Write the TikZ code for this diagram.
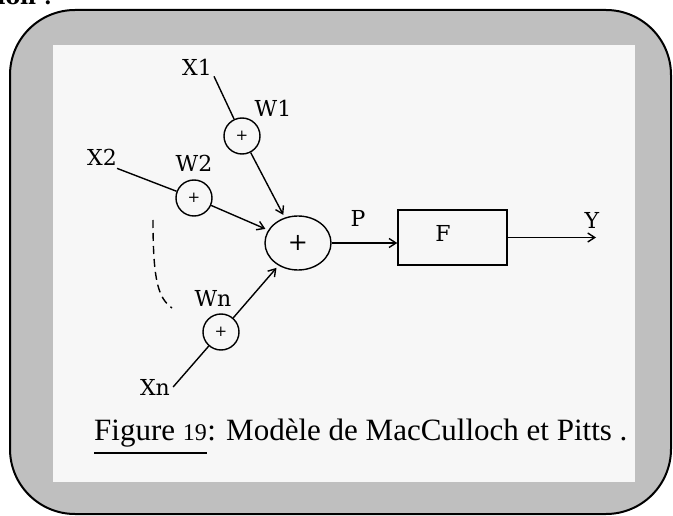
\documentclass[tikz,border=0pt]{standalone}
\usepackage{fontspec}
\setmainfont{DejaVu Serif}
\newfontfamily\capfont{Liberation Serif}
\usetikzlibrary{arrows.meta,shapes.geometric}
\begin{document}
\begin{tikzpicture}[x=1pt,y=-1pt,
  lbl/.style={font=\fontsize{22}{22}\selectfont, inner sep=0pt},
  wcirc/.style={circle, draw, line width=1.4pt, minimum size=36pt, inner sep=0pt, font=\fontsize{15}{15}\selectfont},
  conn/.style={line width=1.4pt},
  arr/.style={line width=1.4pt, -{Straight Barb[length=7pt,width=9pt]}},
  captxt/.style={font=\capfont\fontsize{31}{31}\selectfont, inner sep=0pt, anchor=base west}
]
\clip (0,0) rectangle (673,516);
\fill[white] (0,0) rectangle (673,516);
\node[anchor=base west, font=\bfseries\fontsize{22}{22}\selectfont, inner sep=0pt] (ion) at (-3,5) {ion :};
\draw[line width=2pt, fill=gray!50, rounded corners=65pt] (10,10) rectangle (671,514);
\fill[black!3] (53,45) rectangle (635,482);

% nodes
\node[lbl] (x1) at (197,67) {X1};
\node[wcirc] (w1c) at (242,136) {+};
\node[lbl] (w1) at (273,108) {W1};
\node[lbl] (x2) at (102,157) {X2};
\node[wcirc] (w2c) at (194,198) {+};
\node[lbl] (w2) at (194,163) {W2};
\node[wcirc] (wnc) at (221,332) {+};
\node[lbl] (wn) at (213,298) {Wn};
\node[lbl] (xn) at (155,387) {Xn};
\node[ellipse, draw, line width=1.4pt, minimum width=66pt, minimum height=54pt, inner sep=0pt,
      font=\fontsize{24}{24}\selectfont] (sum) at (298,243) {+};
\node[lbl] (p) at (358,218) {P};
\node[draw, line width=1.4pt, minimum width=109pt, minimum height=55pt, inner sep=0pt] (f) at (452.5,237.5) {};
\node[lbl] (flabel) at (443,233) {F};
\coordinate (yend) at (596,237.5);
\node[lbl] (y) at (592,220) {Y};

% connectors
\draw[conn] ([xshift=2pt,yshift=-1pt]x1.south east) -- (w1c);
\draw[conn] ([yshift=-3pt]x2.south east) -- (w2c);
\draw[conn] ([xshift=3pt]xn.east) -- (wnc);
\draw[arr, shorten >=3pt] (w1c) -- (sum);
\draw[arr, shorten >=3pt] (w2c) -- (sum);
\draw[arr, shorten >=3pt] (wnc) -- (sum);
\draw[arr] (sum.east) -- (sum.east -| f.west);
\draw[arr] (f.east) -- (yend);

% dashed arc
\draw[line width=1.4pt, dash pattern=on 8pt off 5pt] (153,220) .. controls (153,280) and (158,298) .. (172,308);

% caption
\node[captxt] (fig) at (94,440) {Figure {\fontsize{24}{24}\selectfont 19}};
\node[captxt] (rest) at (fig.base east) {: Modèle de MacCulloch et Pitts .};
\draw[line width=1.5pt] ([yshift=-13pt]fig.base west) -- ([yshift=-13pt]fig.base east);
\end{tikzpicture}
\end{document}
